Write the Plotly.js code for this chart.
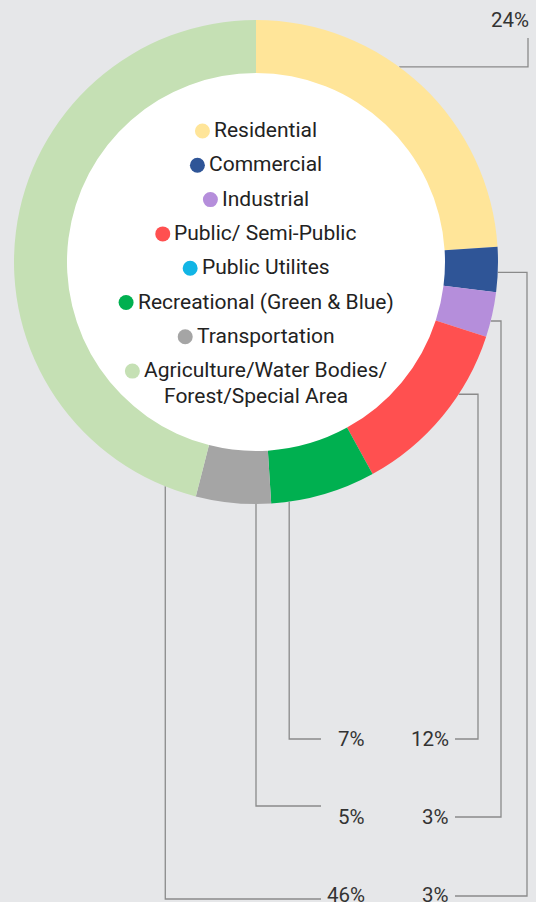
<!DOCTYPE html>
<html><head><meta charset="utf-8">
<script src="https://cdn.plot.ly/plotly-3.0.1.min.js"></script>
<style>html,body{margin:0;padding:0;background:#e6e7e9;} #chart{width:536px;height:902px;}</style>
</head><body><div id="chart"></div>
<script>
// ---- data ----
const categories = ["Residential","Commercial","Industrial","Public/ Semi-Public","Public Utilites","Recreational (Green & Blue)","Transportation","Agriculture/Water Bodies/Forest/Special Area"];
const values = [24, 3, 3, 12, 0, 7, 5, 46];
const colors = ["#FFE599","#2F5597","#B58EDB","#FF5050","#12B5E5","#00B050","#A5A5A5","#C5E0B4"];

// ---- layout geometry (pixels) ----
const W = 536, H = 902, cx = 256, cy = 262, R = 242, r = 189;
const px = x => x / W, py = y => 1 - y / H;
const total = values.reduce((a, b) => a + b, 0);
const LEG_FONT = 21, PCT_FONT = 20.5, DOT = 15, GAP = 4;

// leader routing per category (layout only)
const leaders = [
  {t:0.42, type:"top",   col:528, endY:38,  lx:531, ly:20},
  {t:0.56, type:"right", col:527, lineY:896, endX:455, lx:451, ly:895},
  {t:0.64, type:"right", col:501, lineY:817, endX:455, lx:451, ly:817},
  {t:0.35, type:"right", col:478, lineY:739, endX:455, lx:451, ly:739},
  null,
  {t:0.83, type:"down", lineY:739, endX:321, lx:367, ly:739},
  {t:0.20, type:"down", lineY:806, endX:321, lx:367, ly:817},
  {t:0.046,type:"down", lineY:899, endX:321, lx:367, ly:895}
];

function build() {
  const shapes = [], annotations = [];
  let cum = 0;
  values.forEach((v, i) => {
    const L = leaders[i];
    if (L && v > 0) {
      const ang = (cum + L.t * v) / total * 2 * Math.PI;
      const ax = cx + R * Math.sin(ang), ay = cy - R * Math.cos(ang);
      let pts;
      if (L.type === "top") pts = [[ax, ay], [L.col, ay], [L.col, L.endY]];
      else if (L.type === "right") pts = [[ax, ay], [L.col, ay], [L.col, L.lineY], [L.endX, L.lineY]];
      else pts = [[ax, ay], [ax, L.lineY], [L.endX, L.lineY]];
      const path = pts.map((p, k) => (k ? "L" : "M") + px(p[0]).toFixed(5) + "," + py(p[1]).toFixed(5)).join(" ");
      shapes.push({type:"path", xref:"paper", yref:"paper", path, layer:"below",
        line:{color:"#8a8a8a", width:1.3}});
      annotations.push({xref:"paper", yref:"paper", x:px(L.lx), y:py(L.ly), xanchor:"right", yanchor:"middle",
        text: v + "%", showarrow:false, font:{family:"Roboto", size:PCT_FONT, color:"#333333"}});
    }
    cum += v;
  });

  // legend inside the hole, each line centred
  const ctx = document.createElement("canvas").getContext("2d");
  ctx.font = LEG_FONT + "px Roboto";
  const legendY0 = 130, legendStep = 34.3, lineStep = 26;
  let y = legendY0;
  categories.forEach((c, i) => {
    const lines = c.replace("Bodies/", "Bodies/\n").split("\n");
    lines.forEach((ln, k) => {
      const tw = ctx.measureText(ln).width;
      const yc = y + k * lineStep;
      if (k === 0) {
        const tot = DOT + GAP + tw, left = cx - tot / 2;
        shapes.push({type:"circle", xref:"paper", yref:"paper", layer:"above",
          x0:px(left), x1:px(left + DOT), y0:py(yc + 1 + DOT / 2), y1:py(yc + 1 - DOT / 2),
          fillcolor:colors[i], line:{width:0}});
        annotations.push({xref:"paper", yref:"paper", x:px(left + DOT + GAP - 2), y:py(yc), xanchor:"left", yanchor:"middle",
          text:ln, showarrow:false, font:{family:"Roboto", size:LEG_FONT, color:"#222222"}});
      } else {
        annotations.push({xref:"paper", yref:"paper", x:px(cx), y:py(yc), xanchor:"center", yanchor:"middle",
          text:ln, showarrow:false, font:{family:"Roboto", size:LEG_FONT, color:"#222222"}});
      }
    });
    y += legendStep;
  });

  const domain = {x:[px(cx - R), px(cx + R)], y:[py(cy + R), py(cy - R)]};
  const innerDomain = {x:[px(cx - r - 2), px(cx + r + 2)], y:[py(cy + r + 2), py(cy - r - 2)]};

  const data = [
    {type:"pie", values:[1], marker:{colors:["#ffffff"], line:{width:0}}, textinfo:"none", hoverinfo:"skip",
     showlegend:false, domain:innerDomain, sort:false},
    {type:"pie", labels:categories, values:values, marker:{colors:colors, line:{width:0}},
     hole:r / R, sort:false, direction:"clockwise", rotation:0, textinfo:"none", hoverinfo:"label+percent",
     showlegend:false, domain:domain}
  ];

  Plotly.newPlot("chart", data, {
    width:W, height:H, margin:{l:0, r:0, t:0, b:0},
    paper_bgcolor:"#e6e7e9", plot_bgcolor:"#e6e7e9",
    showlegend:false, shapes, annotations
  }, {displayModeBar:false, staticPlot:true});
}
if (document.fonts && document.fonts.load) {
  document.fonts.load(LEG_FONT + "px Roboto").then(build, build);
} else build();
</script></body></html>
